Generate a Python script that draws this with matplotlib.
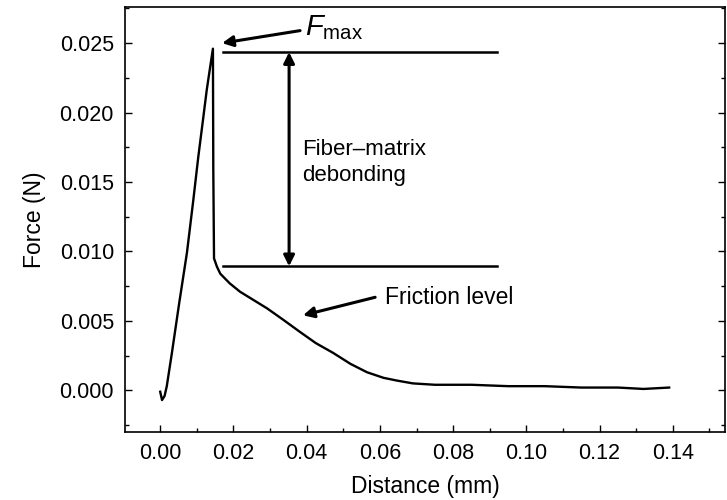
import numpy as np
import matplotlib.pyplot as plt
from matplotlib.ticker import MultipleLocator

plt.rcParams['font.family'] = ['Liberation Sans', 'DejaVu Sans']
plt.rcParams['mathtext.fontset'] = 'custom'
plt.rcParams['mathtext.rm'] = 'Liberation Sans'
plt.rcParams['mathtext.it'] = 'Liberation Sans:italic'

# === Data (distance mm, force N) ===
jarak = [0.0, 0.0005, 0.0012, 0.0018, 0.0032, 0.0052, 0.0073, 0.0090, 0.0104, 0.0117,
         0.0127, 0.0136, 0.0144, 0.0145, 0.0147, 0.0155, 0.0164, 0.019, 0.0218,
         0.0255, 0.0292, 0.0335, 0.0382, 0.0425, 0.0472, 0.052, 0.0565, 0.061,
         0.0647, 0.069, 0.075, 0.085, 0.095, 0.105, 0.115, 0.125, 0.132, 0.139]
gaya = [-0.0001, -0.0007, -0.0004, 0.0003, 0.0027, 0.0063, 0.0099, 0.0136, 0.0168, 0.0195,
        0.0216, 0.0232, 0.0246, 0.0160, 0.0095, 0.0089, 0.0084, 0.0077, 0.0071,
        0.0065, 0.0059, 0.0051, 0.0042, 0.0034, 0.0027, 0.0019, 0.0013, 0.0009,
        0.0007, 0.0005, 0.0004, 0.0004, 0.0003, 0.0003, 0.0002, 0.0002, 0.0001, 0.0002]

f_max = 0.02435
f_gesek = 0.00893
garis_x = [0.0172, 0.092]
panah_x = 0.0352

fig = plt.figure(figsize=(7.27, 5.0), dpi=100)
ax = fig.add_axes([0.172, 0.136, 0.825, 0.85])

ax.plot(jarak, gaya, color='black', lw=1.7)

# garis referensi
ax.plot(garis_x, [f_max, f_max], color='black', lw=1.8)
ax.plot(garis_x, [f_gesek, f_gesek], color='black', lw=1.8)
ax.annotate('', xy=(panah_x, f_max), xytext=(panah_x, f_gesek),
            arrowprops=dict(arrowstyle='<|-|>', color='black', lw=2.2,
                            mutation_scale=16, shrinkA=0, shrinkB=0))

ax.annotate('', xy=(0.0169, 0.0250), xytext=(0.0382, 0.0259),
            arrowprops=dict(arrowstyle='-|>', color='black', lw=2.2,
                            mutation_scale=16, shrinkA=0, shrinkB=0))
ax.text(0.0396, 0.0261, r'$F_{\rm max}$', fontsize=21, va='center', ha='left')

ax.annotate('', xy=(0.0390, 0.0054), xytext=(0.0587, 0.0067),
            arrowprops=dict(arrowstyle='-|>', color='black', lw=2.2,
                            mutation_scale=16, shrinkA=0, shrinkB=0))
ax.text(0.0614, 0.0067, 'Friction level', fontsize=16.5, va='center', ha='left')

ax.text(0.0387, 0.0164, 'Fiber\u2013matrix\ndebonding', fontsize=16,
        va='center', ha='left', linespacing=1.35)

ax.set_xlim(-0.0096, 0.1542)
ax.set_ylim(-0.0030, 0.0276)
ax.xaxis.set_major_locator(MultipleLocator(0.02))
ax.xaxis.set_minor_locator(MultipleLocator(0.01))
ax.yaxis.set_major_locator(MultipleLocator(0.005))
ax.yaxis.set_minor_locator(MultipleLocator(0.0025))
ax.xaxis.set_major_formatter(plt.FormatStrFormatter('%.2f'))
ax.yaxis.set_major_formatter(plt.FormatStrFormatter('%.3f'))
ax.tick_params(which='both', direction='in', top=False, right=True, labelsize=15.5, pad=8)
ax.tick_params(which='major', length=5, width=1)
ax.tick_params(which='minor', length=3, width=1)
for s in ax.spines.values():
    s.set_linewidth(1.2)

ax.set_xlabel('Distance (mm)', fontsize=16.5, labelpad=8)
ax.set_ylabel('Force (N)', fontsize=16.5, labelpad=10)

fig.savefig('out.png', dpi=100)
